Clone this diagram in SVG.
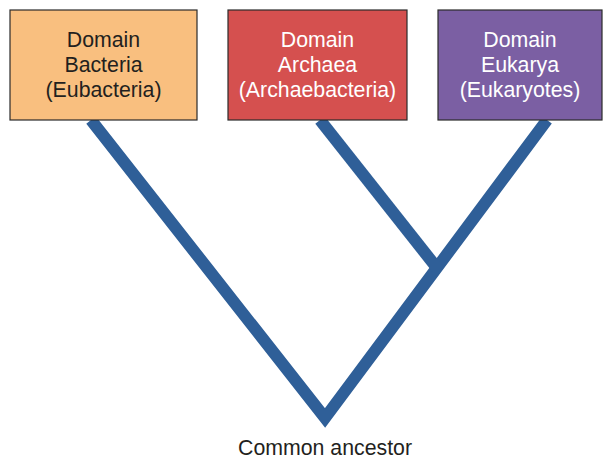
<svg xmlns="http://www.w3.org/2000/svg" width="605" height="460" viewBox="0 0 605 460">
<style>
.box{stroke:#2b2b2b;stroke-width:1.2}
.t{font-family:"Liberation Sans",Arial,sans-serif;font-size:21.3px;text-anchor:middle}
.dark{fill:#231f20}
.light{fill:#ffffff}
.br{fill:none;stroke:#2f5f98;stroke-width:12;stroke-linejoin:miter;stroke-miterlimit:10}
</style>
<rect width="605" height="460" fill="#ffffff"/>
<g id="connectors">
<polyline class="br" points="91,120 325,418 547,120"/>
<line class="br" x1="320" y1="120" x2="437" y2="268"/>
</g>
<g id="bacteria">
<rect class="box" x="10" y="10" width="187" height="110" fill="#f9bf7f"/>
<text class="t dark" x="103.5" y="47">Domain</text>
<text class="t dark" x="103.5" y="72">Bacteria</text>
<text class="t dark" x="103.5" y="97">(Eubacteria)</text>
</g>
<g id="archaea">
<rect class="box" x="228" y="10" width="179" height="110" fill="#d5504f"/>
<text class="t light" x="317.5" y="47">Domain</text>
<text class="t light" x="317.5" y="72">Archaea</text>
<text class="t light" x="317.5" y="97">(Archaebacteria)</text>
</g>
<g id="eukarya">
<rect class="box" x="438" y="10" width="164" height="110" fill="#7b5fa3"/>
<text class="t light" x="520" y="47">Domain</text>
<text class="t light" x="520" y="72">Eukarya</text>
<text class="t light" x="520" y="97">(Eukaryotes)</text>
</g>
<g id="ancestor">
<text class="t dark" x="325" y="455">Common ancestor</text>
</g>
</svg>
